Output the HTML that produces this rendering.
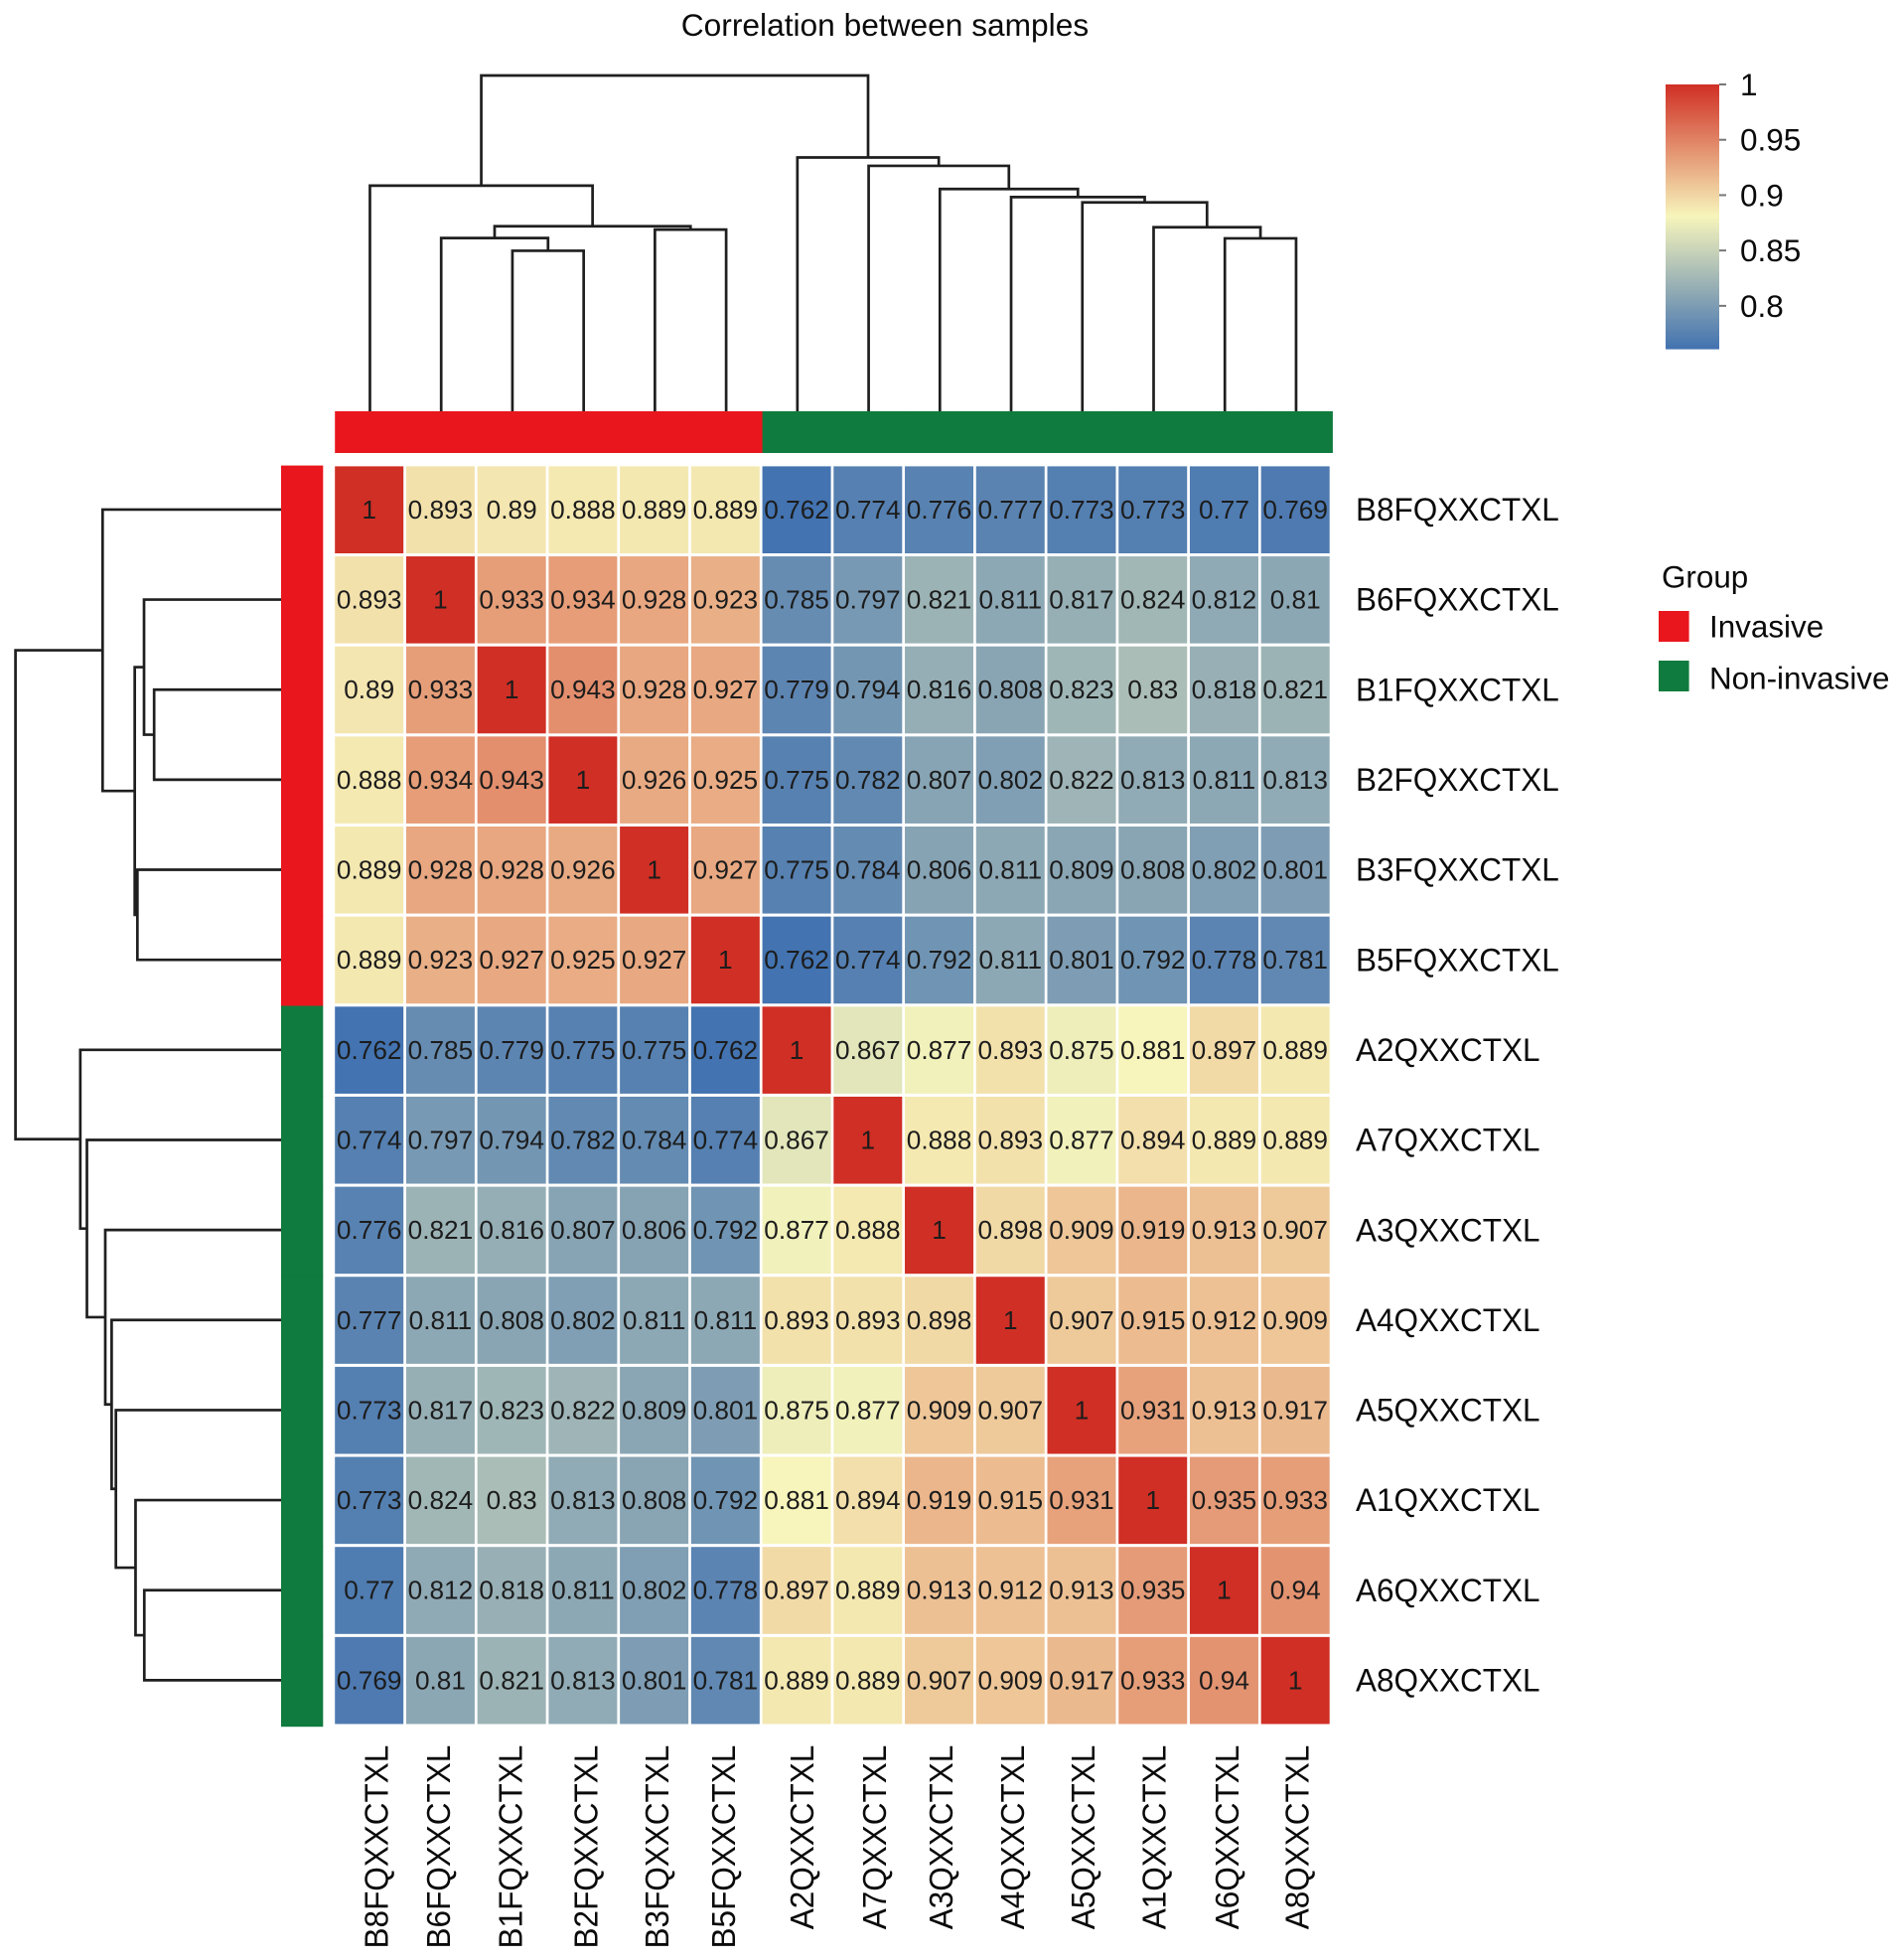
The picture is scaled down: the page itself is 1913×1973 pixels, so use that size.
<!DOCTYPE html>
<html lang="en">
<head>
<meta charset="utf-8">
<title>Correlation between samples</title>
<style>
  html, body { margin: 0; padding: 0; background: #ffffff; }
  svg { display: block; font-family: "Liberation Sans", Arial, sans-serif; }
  text { fill: #0a0a0a; }
</style>
</head>
<body>
<svg id="chart" xmlns="http://www.w3.org/2000/svg" width="1913" height="1973" viewBox="0 0 1913 1973">
  <rect x="0" y="0" width="1913" height="1973" fill="#ffffff"/>
  <text x="891" y="25" font-size="31.7" text-anchor="middle" dominant-baseline="central">Correlation between samples</text>
  <g id="top-dendrogram" fill="none" stroke="#1f1f1f" stroke-width="2.7"></g>
  <g id="left-dendrogram" fill="none" stroke="#1f1f1f" stroke-width="2.7"></g>
  <g id="top-annotation"></g>
  <g id="left-annotation"></g>
  <g id="heatmap"></g>
  <g id="row-labels"></g>
  <g id="col-labels"></g>
  <g id="colorbar"></g>
  <g>
    <text x="1673" y="581" font-size="31.4" dominant-baseline="central">Group</text>
    <rect x="1670" y="615" width="30.6" height="31" fill="#e9161d"/>
    <text x="1721" y="631" font-size="31.4" dominant-baseline="central">Invasive</text>
    <rect x="1670" y="665" width="30.6" height="31" fill="#107b3e"/>
    <text x="1721" y="683" font-size="31.4" dominant-baseline="central">Non-invasive</text>
  </g>
</svg>
<script>
// ---- Chart data ----
const sampleLabels = ["B8FQXXCTXL","B6FQXXCTXL","B1FQXXCTXL","B2FQXXCTXL","B3FQXXCTXL","B5FQXXCTXL","A2QXXCTXL","A7QXXCTXL","A3QXXCTXL","A4QXXCTXL","A5QXXCTXL","A1QXXCTXL","A6QXXCTXL","A8QXXCTXL"];
const sampleGroups = ["Invasive","Invasive","Invasive","Invasive","Invasive","Invasive","Non-invasive","Non-invasive","Non-invasive","Non-invasive","Non-invasive","Non-invasive","Non-invasive","Non-invasive"];
const correlationMatrix = [
  [1,0.893,0.89,0.888,0.889,0.889,0.762,0.774,0.776,0.777,0.773,0.773,0.77,0.769],
  [0.893,1,0.933,0.934,0.928,0.923,0.785,0.797,0.821,0.811,0.817,0.824,0.812,0.81],
  [0.89,0.933,1,0.943,0.928,0.927,0.779,0.794,0.816,0.808,0.823,0.83,0.818,0.821],
  [0.888,0.934,0.943,1,0.926,0.925,0.775,0.782,0.807,0.802,0.822,0.813,0.811,0.813],
  [0.889,0.928,0.928,0.926,1,0.927,0.775,0.784,0.806,0.811,0.809,0.808,0.802,0.801],
  [0.889,0.923,0.927,0.925,0.927,1,0.762,0.774,0.792,0.811,0.801,0.792,0.778,0.781],
  [0.762,0.785,0.779,0.775,0.775,0.762,1,0.867,0.877,0.893,0.875,0.881,0.897,0.889],
  [0.774,0.797,0.794,0.782,0.784,0.774,0.867,1,0.888,0.893,0.877,0.894,0.889,0.889],
  [0.776,0.821,0.816,0.807,0.806,0.792,0.877,0.888,1,0.898,0.909,0.919,0.913,0.907],
  [0.777,0.811,0.808,0.802,0.811,0.811,0.893,0.893,0.898,1,0.907,0.915,0.912,0.909],
  [0.773,0.817,0.823,0.822,0.809,0.801,0.875,0.877,0.909,0.907,1,0.931,0.913,0.917],
  [0.773,0.824,0.83,0.813,0.808,0.792,0.881,0.894,0.919,0.915,0.931,1,0.935,0.933],
  [0.77,0.812,0.818,0.811,0.802,0.778,0.897,0.889,0.913,0.912,0.913,0.935,1,0.94],
  [0.769,0.81,0.821,0.813,0.801,0.781,0.889,0.889,0.907,0.909,0.917,0.933,0.94,1]
];
// Dendrogram merges: ids 0-13 are leaves, 14+ are earlier merges in order.
const mergeFirst  = [2, 1, 4, 15, 0, 12, 11, 10, 9, 8, 7, 6, 18];
const mergeSecond = [3, 14, 5, 16, 17, 13, 19, 20, 21, 22, 23, 24, 25];
const mergeHeights = [0.478, 0.516, 0.541, 0.551, 0.672, 0.515, 0.548, 0.622, 0.638, 0.662, 0.731, 0.756, 1];
const colorbarTicks = [1, 0.95, 0.9, 0.85, 0.8];
const colorDomain = [0.7613, 0.881, 1];

// ---- Axis functions ----
const NS = "http://www.w3.org/2000/svg";
const gridLeft = 337.2, gridTop = 468.6, colStep = 71.73, rowStep = 90.65;
const cellW = 69, cellH = 87.6;
const colX = i => gridLeft + colStep * i;
const rowY = i => gridTop + rowStep * i;
const colCenter = i => colX(i) + colStep / 2 - 0.6;
const rowCenter = i => rowY(i) + rowStep / 2 - 1;
const topHeight = h => 414 - 338 * h;
const leftHeight = h => 283 - 267.4 * h;
const barY = v => 85 + (1 - v) * (351 - 85) / (1 - colorDomain[0]);
// The source figure's rotated labels sit slightly off their column centres.
const columnLabelShift = { B8FQXXCTXL: 6.2, B6FQXXCTXL: -3.2, B1FQXXCTXL: -2.5, B2FQXXCTXL: 2, B3FQXXCTXL: 1.9, B5FQXXCTXL: -3.2, A2QXXCTXL: 4.1, A7QXXCTXL: 5.7, A3QXXCTXL: 1, A4QXXCTXL: 1, A5QXXCTXL: 0.2, A1QXXCTXL: 0.2, A6QXXCTXL: 2.1, A8QXXCTXL: 0.7 };

const lowColor = [66, 114, 176], midColor = [247, 245, 187], highColor = [208, 47, 37];
function colorScale(v) {
  let a, b, t;
  if (v <= colorDomain[1]) { a = lowColor; b = midColor; t = (v - colorDomain[0]) / (colorDomain[1] - colorDomain[0]); }
  else { a = midColor; b = highColor; t = (v - colorDomain[1]) / (colorDomain[2] - colorDomain[1]); }
  t = Math.max(0, Math.min(1, t));
  return "rgb(" + a.map((c, i) => Math.round(c + (b[i] - c) * t)).join(",") + ")";
}
function make(tag, parentId, attrs, content) {
  const el = document.createElementNS(NS, tag);
  for (const k in attrs) el.setAttribute(k, attrs[k]);
  if (content !== undefined) el.textContent = content;
  document.getElementById(parentId).appendChild(el);
  return el;
}
const slug = s => s.toLowerCase();

// ---- Heatmap cells and values ----
correlationMatrix.forEach((row, r) => {
  row.forEach((value, c) => {
    const cell = make("rect", "heatmap", { x: colX(c), y: rowY(r) + 0.8, width: cellW, height: cellH, fill: colorScale(value) });
    
    
    const label = make("text", "heatmap", { x: colX(c) + cellW / 2, y: rowCenter(r), "font-size": 26.2, "text-anchor": "middle", "dominant-baseline": "central" }, String(value));
    
    
    label.style.fill = "#1c1c1c";
  });
});

// ---- Labels ----
sampleLabels.forEach((name, i) => {
  const ry = rowCenter(i);
  const rowLabel = make("text", "row-labels", { "font-size": 31.5, "dominant-baseline": "central", transform: "translate(1365 " + ry + ") scale(1 1.03)" }, name);
  
  
  const cx = colCenter(i) + columnLabelShift[name], cy = 1756.7;
  const colLabel = make("text", "col-labels", { "font-size": 31.5, "text-anchor": "end", "dominant-baseline": "central", transform: "translate(" + cx + " " + cy + ") rotate(-90) scale(1 1.07)" }, name);
  
  
});

// ---- Group annotations ----
const groupColors = { "Invasive": "#e9161d", "Non-invasive": "#107b3e" };
sampleGroups.forEach((group, i) => {
  const topCell = make("rect", "top-annotation", { x: colX(i), y: 414, width: colStep + 0.5, height: 42, fill: groupColors[group] });
  
  
  const leftCell = make("rect", "left-annotation", { x: 283, y: rowY(i), width: 42.3, height: rowStep + 0.5, fill: groupColors[group] });
  
  
});

// ---- Dendrograms ----
const leafCount = sampleLabels.length;
const nodePos = [];
const nodeHeight = [];
for (let i = 0; i < leafCount; i++) { nodePos[i] = i + 0.5; nodeHeight[i] = 0; }
mergeHeights.forEach((h, m) => {
  const a = mergeFirst[m], b = mergeSecond[m];
  const id = leafCount + m;
  nodePos[id] = (nodePos[a] + nodePos[b]) / 2;
  nodeHeight[id] = h;
  const xa = gridLeft + colStep * nodePos[a] - 0.6, xb = gridLeft + colStep * nodePos[b] - 0.6;
  const topPath = make("path", "top-dendrogram", {
    d: "M" + xa + " " + topHeight(nodeHeight[a]) + "V" + topHeight(h) + "H" + xb + "V" + topHeight(nodeHeight[b])
  });
  
  
  const ya = gridTop + rowStep * nodePos[a] - 1, yb = gridTop + rowStep * nodePos[b] - 1;
  const leftPath = make("path", "left-dendrogram", {
    d: "M" + leftHeight(nodeHeight[a]) + " " + ya + "H" + leftHeight(h) + "V" + yb + "H" + leftHeight(nodeHeight[b])
  });
  
  
});

// ---- Colorbar ----
for (let s = 0; s < 120; s++) {
  const vTop = 1 - (1 - colorDomain[0]) * s / 120;
  const vBottom = 1 - (1 - colorDomain[0]) * (s + 1) / 120;
  const strip = make("rect", "colorbar", { x: 1677, y: barY(vTop), width: 54, height: barY(vBottom) - barY(vTop) + 0.6, fill: colorScale((vTop + vBottom) / 2) });
  
  
}
colorbarTicks.forEach(t => {
  const tick = make("line", "colorbar", { x1: 1731, x2: 1738, y1: barY(t), y2: barY(t), stroke: "#777777", "stroke-width": 2 });
  
  
  const label = make("text", "colorbar", { x: 1752, y: barY(t), "font-size": 31.5, "dominant-baseline": "central" }, String(t));
  
  
});
</script>
</body>
</html>
